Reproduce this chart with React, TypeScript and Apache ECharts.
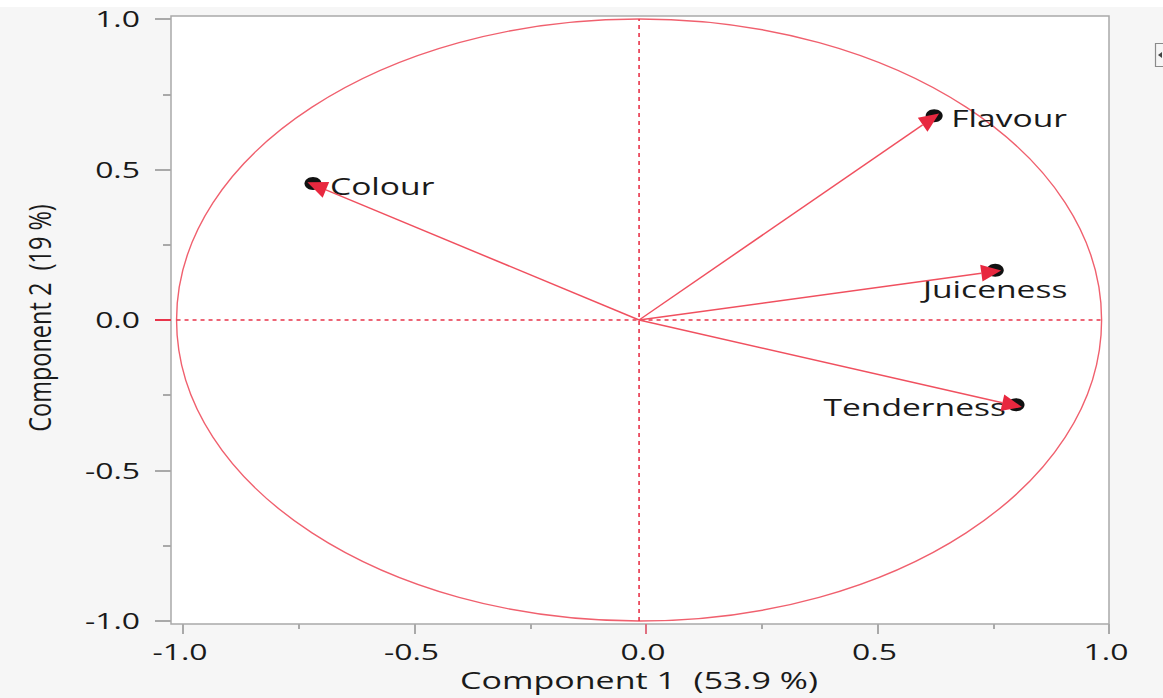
import React, { useEffect, useRef } from "react";
import * as echarts from "echarts";

// ---- data ----
const variables = ["Colour", "Flavour", "Juiceness", "Tenderness"];
const component1 = [-0.705, 0.638, 0.77, 0.815];
const component2 = [0.45, 0.675, 0.162, -0.285];
const labelPlacement = ["right", "right", "bottom", "left"];
const xTickValues = [-1.0, -0.5, 0.0, 0.5, 1.0];
const yTickValues = [-1.0, -0.5, 0.0, 0.5, 1.0];
const majorTicksNoZero = [-1.0, -0.5, 0.5, 1.0];
const minorTicks = [-0.75, -0.25, 0.25, 0.75];
const zeroTick = [0];
const circleRadius = 1;
const refLineH = [[-1, 0], [1, 0]];
const refLineV = [[0, -1], [0, 1]];
const xTitle = "Component 1  (53.9 %)";
const yTitle = "Component 2  (19 %)";

// ---- axis extents ----
const X_LABEL_MIN = -1.026;
const X_LABEL_MAX = 1.0;
const X_DATA_MIN = -1.012;
const X_DATA_MAX = 1.016;
const Y_MIN = -1.01;
const Y_MAX = 1.01;

const TEXT = "#1a1a1a";
const FONT = '"Open Sans", "Noto Sans", sans-serif';
const GRAY = "#a9a9a9";
const RED = "#e8344a";

const fmt = (v: number) => (v < 0 ? "-" : "") + Math.abs(v).toFixed(1);

function textStyle(text: string, size: number, align: string, valign: string) {
  return {
    text,
    fill: TEXT,
    font: `${size}px ${FONT}`,
    fontSize: size,
    fontFamily: FONT,
    align,
    verticalAlign: valign,
    textAlign: align,
    textVerticalAlign: valign,
  };
}

function tickAxis(type: "x" | "y", min: number, max: number, values: number[], len: number, color: string) {
  const base: any = {
    type: "value",
    min,
    max,
    position: type === "x" ? "bottom" : "left",
    offset: 0,
    axisLine: { show: false, onZero: false },
    axisTick: { show: true, customValues: values, length: len, lineStyle: { color, width: 2 } },
    axisLabel: { show: false },
    splitLine: { show: false },
  };
  return base;
}

export default function App() {
  const ref = useRef<HTMLDivElement>(null);

  useEffect(() => {
    if (!ref.current) return;
    const chart = echarts.init(ref.current, undefined, { renderer: "svg" });

    const pointData = variables.map((_, i) => [component1[i], component2[i], i]);

    const option: any = {
      animation: false,
      backgroundColor: "#f6f6f6",
      grid: {
        left: 171,
        top: 16,
        width: 938,
        height: 608,
        show: true,
        backgroundColor: "#ffffff",
        borderColor: GRAY,
        borderWidth: 1.5,
      },
      xAxis: [
        tickAxis("x", X_LABEL_MIN, X_LABEL_MAX, majorTicksNoZero, 10, GRAY),
        tickAxis("x", X_LABEL_MIN, X_LABEL_MAX, minorTicks, 5, GRAY),
        tickAxis("x", X_LABEL_MIN, X_LABEL_MAX, zeroTick, 10, "#e07080"),
        { ...tickAxis("x", X_DATA_MIN, X_DATA_MAX, [], 0, GRAY), show: false },
      ],
      yAxis: [
        tickAxis("y", Y_MIN, Y_MAX, majorTicksNoZero, 16, GRAY),
        tickAxis("y", Y_MIN, Y_MAX, minorTicks, 8, GRAY),
        tickAxis("y", Y_MIN, Y_MAX, zeroTick, 16, RED),
      ],
      series: [
        // unit circle
        {
          type: "custom",
          xAxisIndex: 3,
          yAxisIndex: 0,
          silent: true,
          z: 2,
          data: [[0, 0]],
          renderItem: (_p: any, api: any) => {
            const c = api.coord([api.value(0), api.value(1)]);
            const s = api.size([circleRadius, circleRadius]);
            return {
              type: "ellipse",
              shape: { cx: c[0], cy: c[1], rx: Math.abs(s[0]), ry: Math.abs(s[1]) },
              style: { fill: "none", stroke: "#f0606e", lineWidth: 1.4 },
            };
          },
        },
        // dashed reference lines
        {
          type: "line",
          xAxisIndex: 3,
          yAxisIndex: 0,
          silent: true,
          symbol: "none",
          z: 3,
          data: refLineH,
          lineStyle: { color: RED, width: 1.6, type: [4, 4] },
        },
        {
          type: "line",
          xAxisIndex: 3,
          yAxisIndex: 0,
          silent: true,
          symbol: "none",
          z: 3,
          data: refLineV,
          lineStyle: { color: RED, width: 1.6, type: [4, 4] },
        },
        // labels
        {
          type: "custom",
          xAxisIndex: 3,
          yAxisIndex: 0,
          silent: true,
          z: 4,
          data: pointData,
          renderItem: (_p: any, api: any) => {
            const p = api.coord([api.value(0), api.value(1)]);
            const idx = api.value(2);
            const place = labelPlacement[idx];
            let x = p[0] + 17, y = p[1] + 1, align = "left";
            if (place === "bottom") { x = p[0]; y = p[1] + 18; align = "center"; }
            if (place === "left") { x = p[0] - 10; y = p[1] + 1; align = "right"; }
            return {
              type: "text",
              x,
              y,
              scaleX: 1.4,
              style: textStyle(variables[idx], 24, align, "middle"),
            };
          },
        },
        // dots
        {
          type: "custom",
          xAxisIndex: 3,
          yAxisIndex: 0,
          silent: true,
          z: 5,
          data: pointData,
          renderItem: (_p: any, api: any) => {
            const p = api.coord([api.value(0), api.value(1)]);
            return {
              type: "ellipse",
              shape: { cx: p[0], cy: p[1] - 1, rx: 8.5, ry: 6.5 },
              style: { fill: "#111111" },
            };
          },
        },
        // arrows
        {
          type: "custom",
          xAxisIndex: 3,
          yAxisIndex: 0,
          silent: true,
          z: 6,
          data: pointData,
          renderItem: (_p: any, api: any) => {
            const o = api.coord([0, 0]);
            const p = api.coord([api.value(0), api.value(1)]);
            const dx = p[0] - o[0], dy = p[1] - o[1];
            const len = Math.sqrt(dx * dx + dy * dy);
            const ux = dx / len, uy = dy / len;
            const nx = -uy, ny = ux;
            const tip = [p[0] + ux * 6, p[1] + uy * 6];
            const base = [p[0] - ux * 14, p[1] - uy * 14];
            const hw = 8.5;
            return {
              type: "group",
              children: [
                {
                  type: "line",
                  shape: { x1: o[0], y1: o[1], x2: base[0], y2: base[1] },
                  style: { stroke: "#f0505f", lineWidth: 1.5 },
                },
                {
                  type: "polygon",
                  shape: {
                    points: [
                      tip,
                      [base[0] + nx * hw, base[1] + ny * hw],
                      [base[0] - nx * hw, base[1] - ny * hw],
                    ],
                  },
                  style: { fill: "#e8283f" },
                },
              ],
            };
          },
        },
        // x tick labels
        {
          type: "custom",
          xAxisIndex: 0,
          yAxisIndex: 0,
          silent: true,
          z: 7,
          data: xTickValues.map((v) => [v, Y_MIN]),
          renderItem: (_p: any, api: any) => {
            const v = api.value(0);
            const p = api.coord([v, Y_MIN]);
            return {
              type: "text",
              x: p[0] - 3,
              y: p[1] + 28,
              scaleX: 1.45,
              style: textStyle(fmt(v), 22, "center", "middle"),
            };
          },
        },
        // y tick labels
        {
          type: "custom",
          xAxisIndex: 0,
          yAxisIndex: 0,
          silent: true,
          z: 7,
          data: yTickValues.map((v) => [X_LABEL_MIN, v]),
          renderItem: (_p: any, api: any) => {
            const v = api.value(1);
            const p = api.coord([X_LABEL_MIN, v]);
            return {
              type: "text",
              x: p[0] - 31,
              y: p[1],
              scaleX: 1.45,
              style: textStyle(fmt(v), 22, "right", "middle"),
            };
          },
        },
      ],
      graphic: [
        { type: "rect", shape: { x: 0, y: 0, width: 1163, height: 7 }, style: { fill: "#ffffff" }, silent: true },
        {
          type: "text",
          x: 639,
          y: 680,
          scaleX: 1.48,
          style: textStyle(xTitle, 23, "center", "middle"),
        },
        {
          type: "text",
          x: 38,
          y: 318,
          rotation: Math.PI / 2,
          scaleY: 1.35,
          style: textStyle(yTitle, 23.5, "center", "middle"),
        },
        {
          type: "rect",
          shape: { x: 1155.5, y: 43.5, width: 14, height: 23 },
          style: { fill: "#f6f6f6", stroke: "#8a8a8a", lineWidth: 1.2 },
          silent: true,
        },
        {
          type: "polygon",
          shape: { points: [[1158, 55], [1162, 52], [1162, 58]] },
          style: { fill: "#444444" },
          silent: true,
        },
      ],
    };

    chart.setOption(option);
    return () => chart.dispose();
  }, []);

  return (
    <div
      ref={ref}
      style={{ position: "fixed", left: 0, top: 0, width: 1163, height: 698, background: "#f6f6f6" }}
    />
  );
}
